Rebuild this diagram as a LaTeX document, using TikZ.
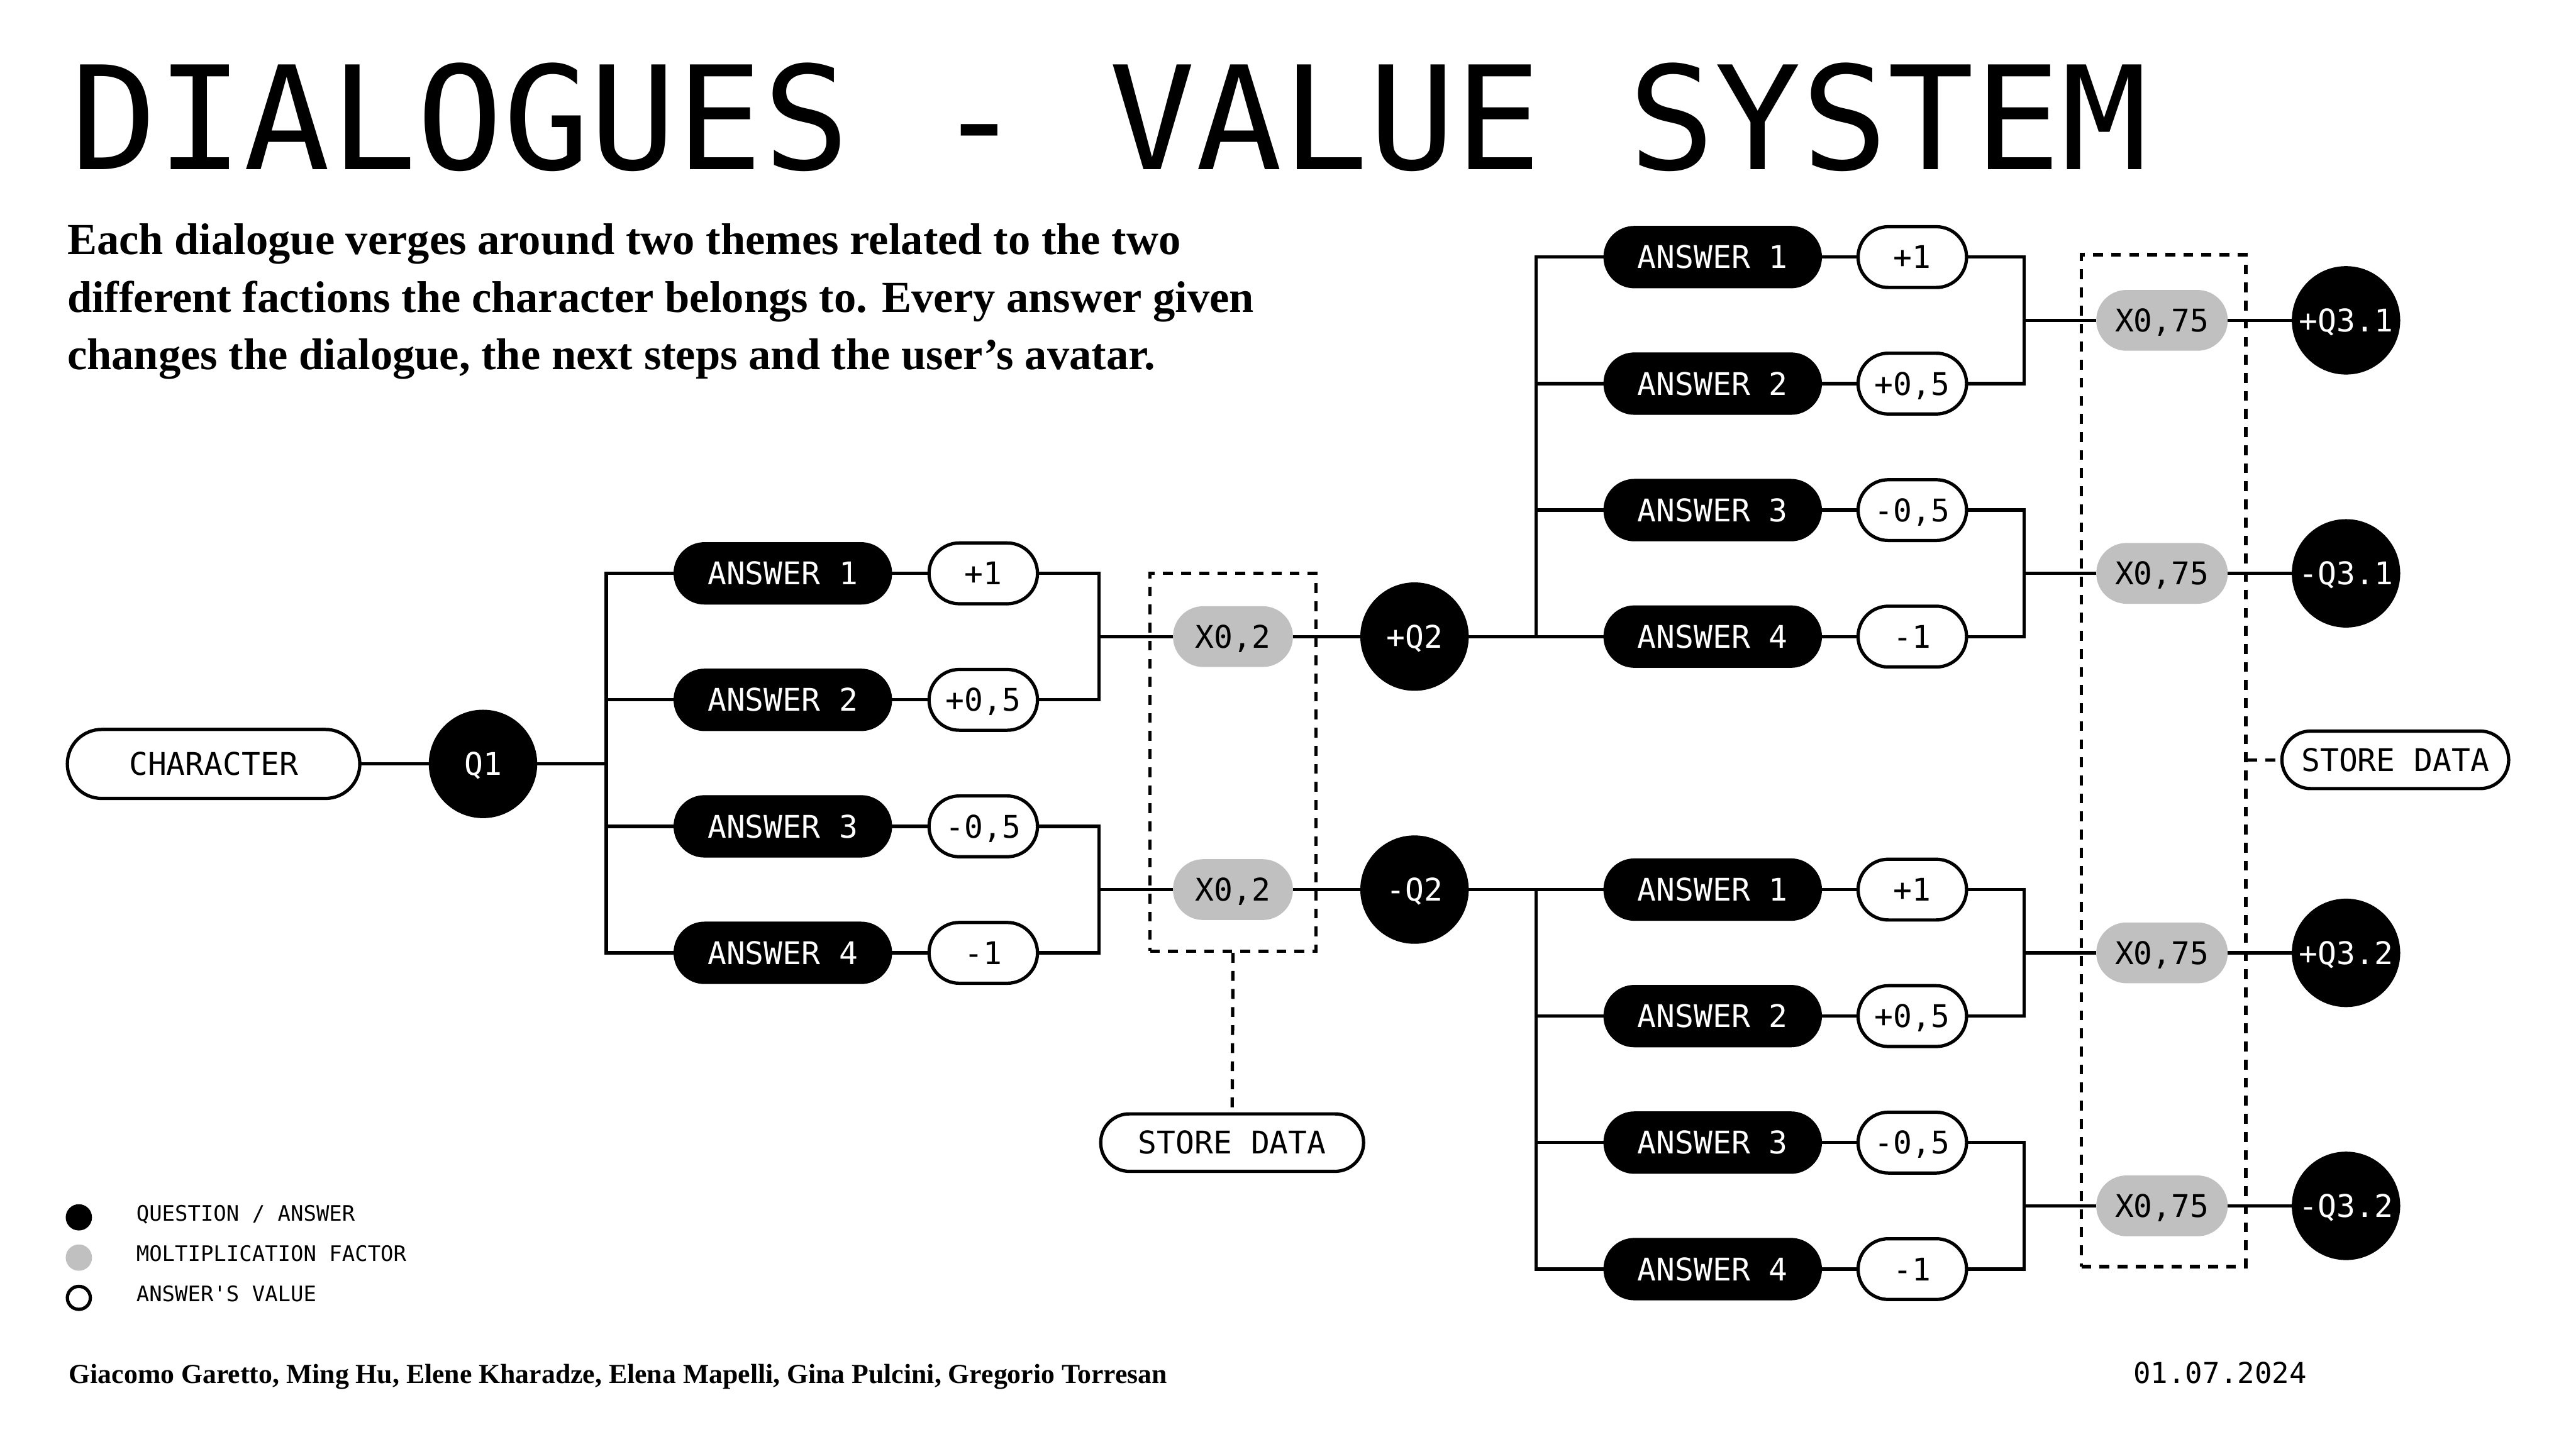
\documentclass[tikz,border=0pt]{standalone}
\usepackage{fontspec}
\setmainfont{Liberation Serif}
\setmonofont{DejaVu Sans Mono}
\definecolor{mulgrey}{HTML}{C0C0C0}
\begin{document}
\begin{tikzpicture}[x=1pt,y=-1pt,line width=2pt,
  lbl/.style={font=\ttfamily\fontsize{19}{19}\selectfont,inner sep=0pt,outer sep=0pt,text height=13.85pt,text depth=0pt,line width=2pt},
  ans/.style={lbl,fill=black,text=white,rounded corners=18.9pt,minimum width=133pt,minimum height=38pt},
  val/.style={lbl,draw=black,fill=white,rounded corners=18.4pt,minimum width=66pt,minimum height=37pt},
  mul/.style={lbl,fill=mulgrey,rounded corners=18.4pt,minimum width=73pt,minimum height=37pt},
  mulw/.style={mul,minimum width=80pt},
  qn/.style={lbl,circle,fill=black,text=white,minimum size=66pt},
  pill/.style={lbl,draw=black,fill=white,rounded corners=17.4pt,minimum height=35pt},
  dbox/.style={draw=black,line width=2pt,dash pattern=on 6pt off 5pt,inner sep=0pt,rectangle},
  dline/.style={line width=2pt,dash pattern=on 6pt off 5pt},
  wire/.style={line width=2pt},
  legtxt/.style={font=\ttfamily\fontsize{13}{13}\selectfont,anchor=mid west,inner sep=0pt},
  para/.style={font=\bfseries\fontsize{27}{27}\selectfont,anchor=base west,inner sep=0pt}
]
\useasboundingbox (0,0) rectangle (1568,882);
\fill[white] (0,0) rectangle (1568,882);

% title and text
\node[font=\ttfamily\fontsize{87.5}{87.5}\selectfont,anchor=base west,inner sep=0pt] (title) at (42,103) {DIALOGUES - VALUE SYSTEM};
\node[para] (p1) at (40,155) {Each dialogue verges around two themes related to the two};
\node[para] (p2) at (40,190) {different factions the character belongs to. Every answer given};
\node[para] (p3) at (40,225) {changes the dialogue, the next steps and the user’s avatar.};

% dashed boxes
\node[dbox,minimum width=101pt,minimum height=230pt] (box1) at (750.5,464) {};
\node[dbox,minimum width=100pt,minimum height=616pt] (box2) at (1317,463) {};

% left part
\node[pill,minimum width=178pt,minimum height=42pt,rounded corners=20.9pt] (ch) at (130,465) {CHARACTER};
\node[qn] (q1) at (294,465) {Q1};
\coordinate (t1) at (369,465);

\foreach \i/\y/\v in {1/349/+1,2/426/+0{,}5,3/503/-0{,}5,4/580/-1}{
  \node[ans] (a\i) at (476.5,\y) {ANSWER \i};
  \node[val] (v\i) at (598.5,\y) {\v};
}
\coordinate (j1) at (669,387.5);
\coordinate (j2) at (669,541.5);
\node[mul] (m1) at (750.5,387.5) {X0,2};
\node[mul] (m2) at (750.5,541.5) {X0,2};
\node[qn] (pq2) at (861,387.5) {+Q2};
\node[qn] (nq2) at (861,541.5) {-Q2};
\node[pill,minimum width=160pt] (sd1) at (750,695.5) {STORE DATA};

% right part
\coordinate (t2) at (935,387.5);
\coordinate (t3) at (935,541.5);
\foreach \i/\y/\v in {1/156.5/+1,2/233.5/+0{,}5,3/310.5/-0{,}5,4/387.5/-1,5/541.5/+1,6/618.5/+0{,}5,7/695.5/-0{,}5,8/772.5/-1}{
  \node[ans] (ra\i) at (1042.5,\y) {};
  \node[val] (rv\i) at (1164,\y) {\v};
}
\foreach \i/\n in {1/1,2/2,3/3,4/4,5/1,6/2,7/3,8/4}{
  \node[lbl,text=white] at (ra\i) {ANSWER \n};
}
\coordinate (k1) at (1232,195);
\coordinate (k2) at (1232,349);
\coordinate (k3) at (1232,580);
\coordinate (k4) at (1232,734);
\node[mulw] (rm1) at (1316,195) {X0,75};
\node[mulw] (rm2) at (1316,349) {X0,75};
\node[mulw] (rm3) at (1316,580) {X0,75};
\node[mulw] (rm4) at (1316,734) {X0,75};
\node[qn] (r1) at (1428,195) {+Q3.1};
\node[qn] (r2) at (1428,349) {-Q3.1};
\node[qn] (r3) at (1428,580) {+Q3.2};
\node[qn] (r4) at (1428,734) {-Q3.2};
\node[pill,minimum width=138pt] (sd2) at (1458,462.5) {STORE DATA};

% connectors
\draw[wire] (ch) -- (q1);
\draw[wire] (q1) -- (t1);
\foreach \i in {1,...,4}{
  \draw[wire] (t1) |- (a\i);
  \draw[wire] (a\i) -- (v\i);
}
\draw[wire] (v1) -| (j1);
\draw[wire] (v2) -| (j1);
\draw[wire] (v3) -| (j2);
\draw[wire] (v4) -| (j2);
\draw[wire] (j1) -- (m1);
\draw[wire] (j2) -- (m2);
\draw[wire] (m1) -- (pq2);
\draw[wire] (m2) -- (nq2);
\draw[wire] (pq2) -- (t2);
\draw[wire] (nq2) -- (t3);
\foreach \i in {1,...,4}{ \draw[wire] (t2) |- (ra\i); }
\foreach \i in {5,...,8}{ \draw[wire] (t3) |- (ra\i); }
\foreach \i in {1,...,8}{ \draw[wire] (ra\i) -- (rv\i); }
\draw[wire] (rv1) -| (k1); \draw[wire] (rv2) -| (k1);
\draw[wire] (rv3) -| (k2); \draw[wire] (rv4) -| (k2);
\draw[wire] (rv5) -| (k3); \draw[wire] (rv6) -| (k3);
\draw[wire] (rv7) -| (k4); \draw[wire] (rv8) -| (k4);
\foreach \i in {1,...,4}{
  \draw[wire] (k\i) -- (rm\i);
  \draw[wire] (rm\i) -- (r\i);
}
\draw[dline] (box1.south) -- (sd1.north);
\draw[dline] (box2.east |- sd2.west) -- (sd2.west);

% legend
\node[circle,fill=black,minimum size=16pt,inner sep=0pt] (lg1) at (48,741) {};
\node[circle,fill=mulgrey,minimum size=16pt,inner sep=0pt] (lg2) at (48,765.5) {};
\node[circle,draw=black,fill=white,line width=2pt,minimum size=14pt,inner sep=0pt] (lg3) at (48,790) {};
\node[legtxt] (lt1) at (82,741) {QUESTION / ANSWER};
\node[legtxt] (lt2) at (82,765.5) {MOLTIPLICATION FACTOR};
\node[legtxt] (lt3) at (82,790) {ANSWER'S VALUE};

% footer
\node[font=\bfseries\fontsize{16.75}{16.75}\selectfont,anchor=base west,inner sep=0pt] (authors) at (41,842) {Giacomo Garetto, Ming Hu, Elene Kharadze, Elena Mapelli, Gina Pulcini, Gregorio Torresan};
\node[font=\ttfamily\fontsize{17.5}{17.5}\selectfont,anchor=base east,inner sep=0pt] (date) at (1405,842) {01.07.2024};
\end{tikzpicture}
\end{document}
